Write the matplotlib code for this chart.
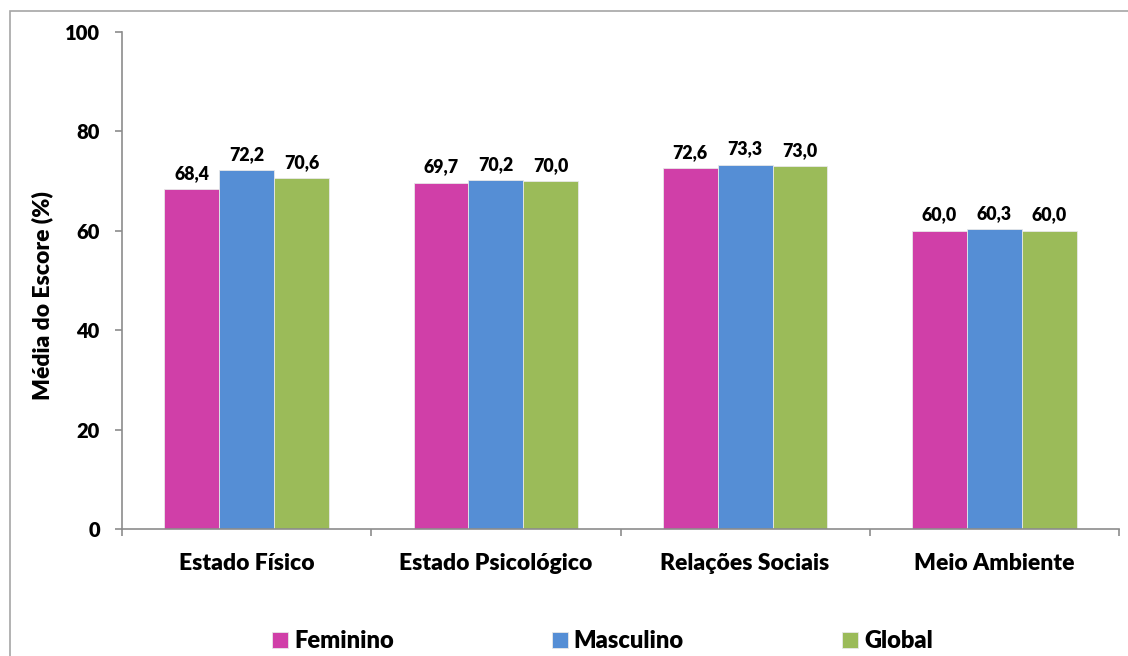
import numpy as np
import matplotlib
matplotlib.use('Agg')
import matplotlib.pyplot as plt
from matplotlib.patches import Rectangle

# Domain scores by sex (WHOQOL style)
dominios = ['Estado Físico', 'Estado Psicológico', 'Relações Sociais', 'Meio Ambiente']
feminino = [68.4, 69.7, 72.6, 60.0]
masculino = [72.2, 70.2, 73.3, 60.3]
global_ = [70.6, 70.0, 73.0, 60.0]
series_nomes = ['Feminino', 'Masculino', 'Global']
cores = ['#D03FA8', '#558ED5', '#9BBB59']
y_ticks = [0, 20, 40, 60, 80, 100]

peso = 'heavy'
plt.rcParams['font.family'] = ['Lato', 'DejaVu Sans']
plt.rcParams['font.weight'] = peso

fig = plt.figure(figsize=(11.28, 6.56), dpi=100)
ax = fig.add_axes([122 / 1128, 1 - 529 / 656, 997 / 1128, 497 / 656])

# light frame around the chart area
fig.patches.append(Rectangle((10 / 1128, -0.01), 1.2, 1 - 11 / 656 + 0.01,
                             transform=fig.transFigure, fill=False,
                             edgecolor='#A6A6A6', linewidth=1.2))

x = np.arange(len(dominios))
largura = 0.22
for i, (vals, nome, cor) in enumerate(zip([feminino, masculino, global_], series_nomes, cores)):
    pos = x + (i - 1) * largura
    ax.bar(pos, vals, width=largura, color=cor, edgecolor='#E8E8E8', linewidth=0.6, label=nome)
    for xp, v in zip(pos, vals):
        ax.text(xp, v + 1.5, f'{v:.1f}'.replace('.', ','), ha='center', va='bottom',
                fontsize=12.8, fontweight=peso)

ax.set_xlim(-0.5, len(dominios) - 0.5)
ax.set_ylim(0, 100)
ax.set_yticks(y_ticks)
ax.set_yticklabels([str(t) for t in y_ticks], fontsize=14.5, fontweight=peso)
ax.set_xticks(x)
ax.set_xticklabels(dominios, fontsize=16.5, fontweight=peso)
ax.tick_params(axis='x', length=0, pad=17)
ax.set_xticks(np.arange(-0.5, len(dominios)), minor=True)
ax.tick_params(axis='x', which='minor', length=5, color='#8C8C8C', width=1.2)
ax.tick_params(axis='y', length=5, color='#8C8C8C', width=1.2, pad=11)

for s in ['top', 'right']:
    ax.spines[s].set_visible(False)
for s in ['left', 'bottom']:
    ax.spines[s].set_color('#8C8C8C')
    ax.spines[s].set_linewidth(1.2)

ax.set_ylabel('Média do Escore (%)', fontsize=16.5, fontweight=peso)
ax.yaxis.set_label_coords(-0.069, 0.47)

leg = fig.legend(loc='center left', bbox_to_anchor=(272 / 1128, 1 - 641 / 656), ncol=3,
                 frameon=False, fontsize=17, handlelength=0.68, handleheight=0.68,
                 handletextpad=0.25, columnspacing=6.7, borderpad=0, borderaxespad=0)
for t in leg.get_texts():
    t.set_fontweight(peso)

fig.savefig('out.png', dpi=100)
